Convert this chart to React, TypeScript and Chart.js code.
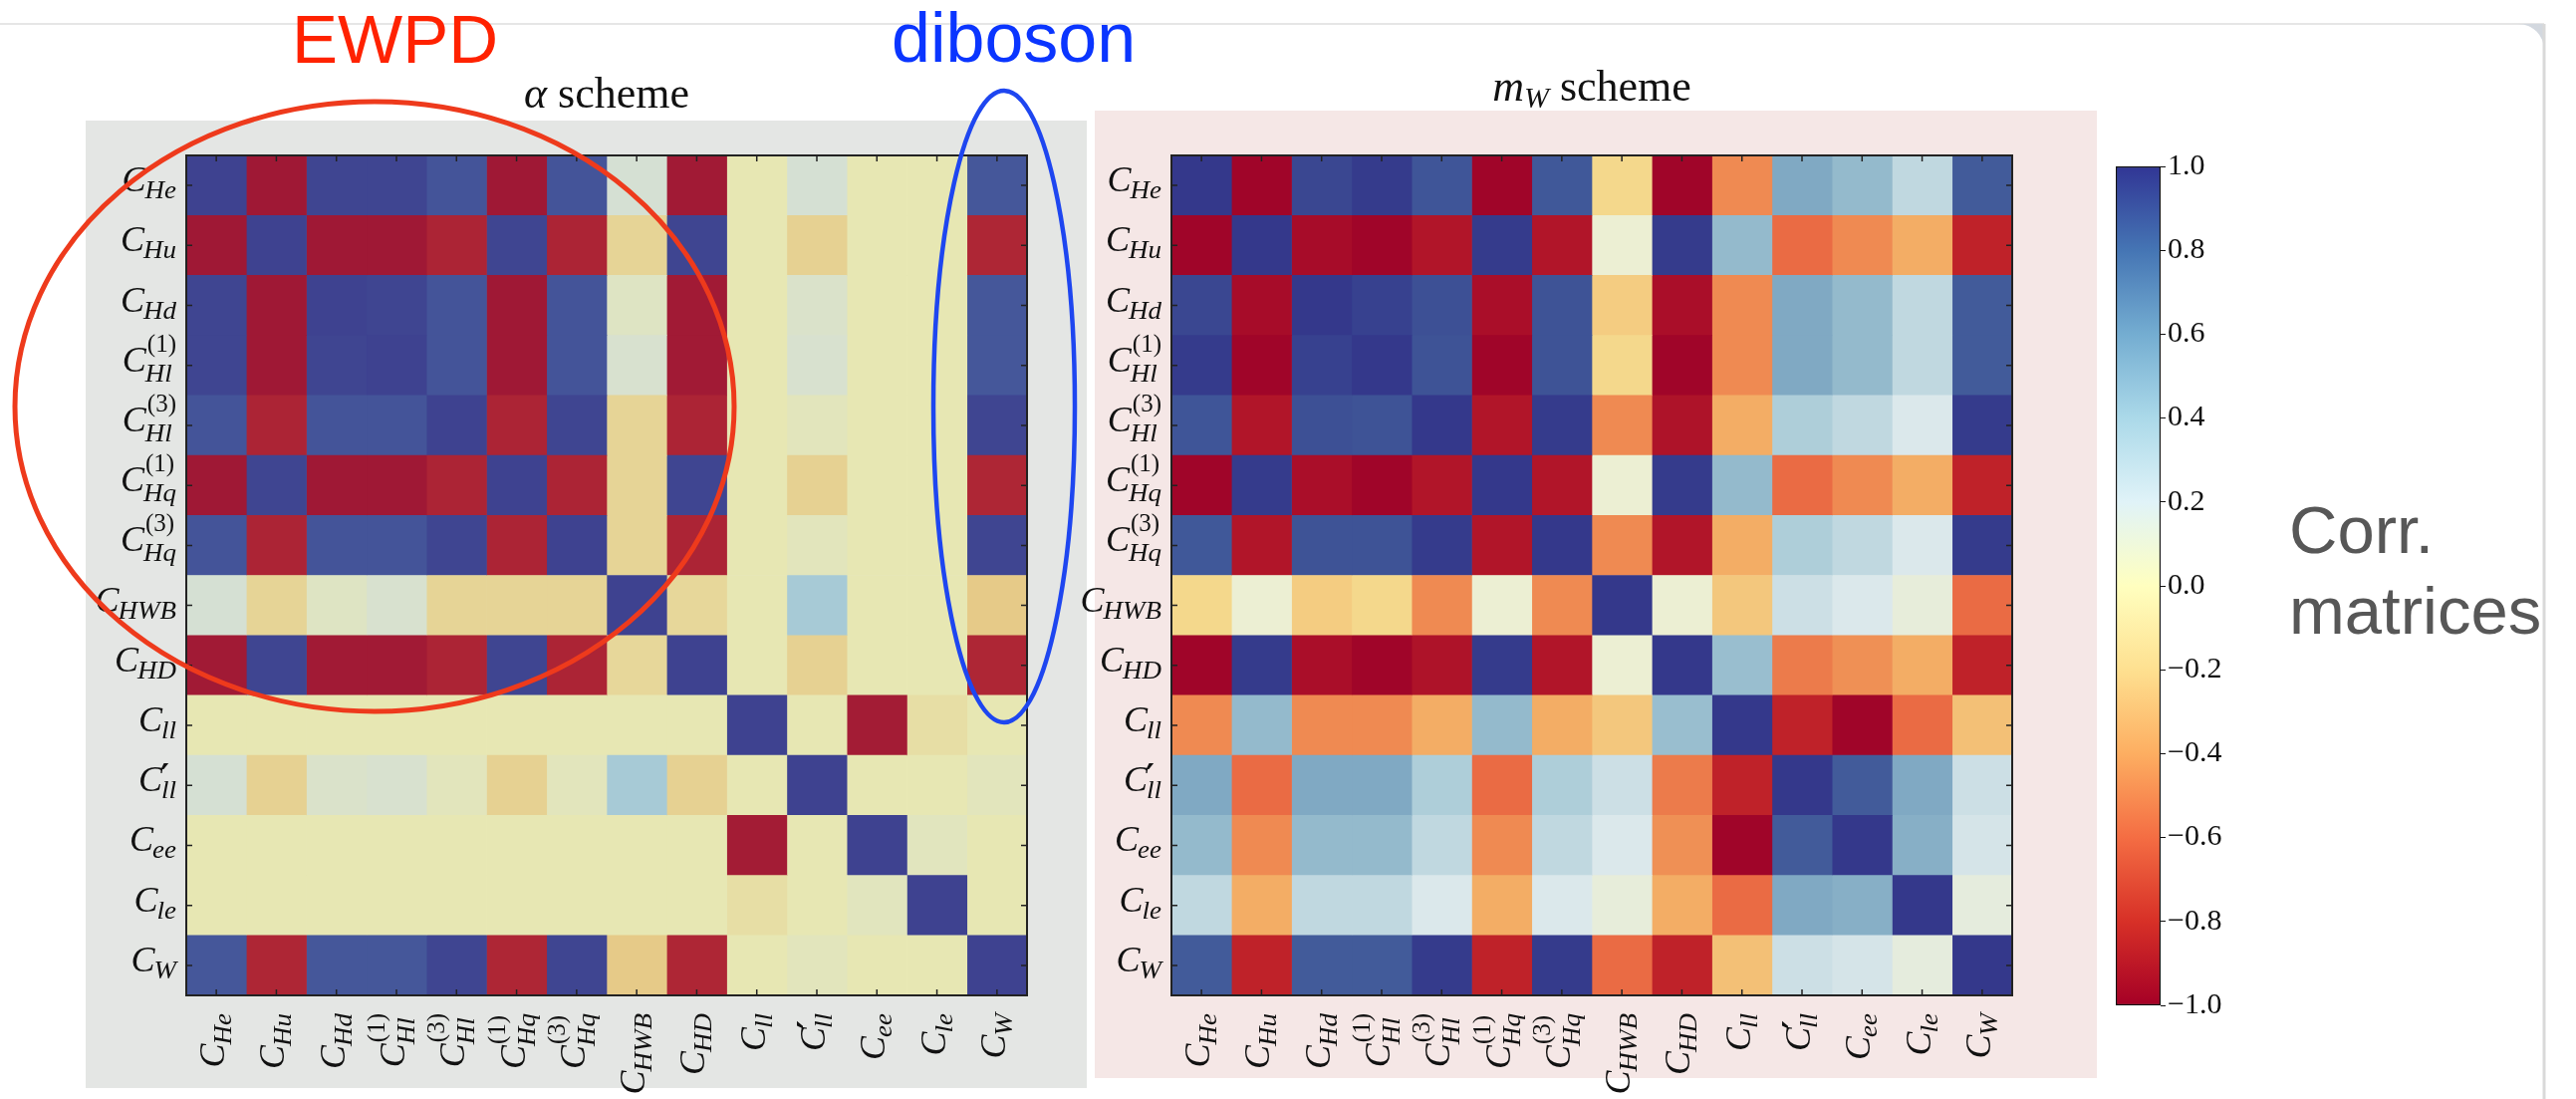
import React, { useEffect, useRef } from 'react';
import { Chart, registerables } from 'chart.js';

Chart.register(...registerables);

// ---------------- data ----------------
// Wilson coefficients (row / column order of both matrices)
const PARAM_SUBS = ['He', 'Hu', 'Hd', 'Hl', 'Hl', 'Hq', 'Hq', 'HWB', 'HD', 'll', 'll', 'ee', 'le', 'W'];
const PARAM_SUPS = ['', '', '', '(1)', '(3)', '(1)', '(3)', '', '', '', '′', '', '', ''];

// α scheme correlation matrix (rows = PARAM order)
const ALPHA_CORR: number[][] = [
  [1.0, -0.99, 0.99, 0.99, 0.93, -0.99, 0.93, 0.14, -0.98, 0.0, 0.14, 0.0, 0.0, 0.92],
  [-0.99, 1.0, -0.99, -0.99, -0.93, 0.99, -0.93, -0.15, 0.99, 0.0, -0.17, 0.0, 0.0, -0.92],
  [0.99, -0.99, 1.0, 0.99, 0.93, -0.99, 0.93, 0.07, -0.98, 0.0, 0.1, 0.0, 0.0, 0.92],
  [0.99, -0.99, 0.99, 1.0, 0.93, -0.99, 0.93, 0.12, -0.98, 0.0, 0.12, 0.0, 0.0, 0.92],
  [0.93, -0.93, 0.93, 0.93, 1.0, -0.93, 0.99, -0.15, -0.93, 0.0, 0.04, 0.0, 0.0, 0.99],
  [-0.99, 0.99, -0.99, -0.99, -0.93, 1.0, -0.93, -0.15, 0.99, 0.0, -0.17, 0.0, 0.0, -0.92],
  [0.93, -0.93, 0.93, 0.93, 0.99, -0.93, 1.0, -0.15, -0.93, 0.0, 0.04, 0.0, 0.0, 0.99],
  [0.14, -0.15, 0.07, 0.12, -0.15, -0.15, -0.15, 1.0, -0.13, 0.0, 0.38, 0.0, 0.0, -0.22],
  [-0.98, 0.99, -0.98, -0.98, -0.93, 0.99, -0.93, -0.13, 1.0, 0.0, -0.17, 0.0, 0.0, -0.92],
  [0.0, 0.0, 0.0, 0.0, 0.0, 0.0, 0.0, 0.0, 0.0, 1.0, 0.0, -0.97, -0.07, 0.0],
  [0.14, -0.17, 0.1, 0.12, 0.04, -0.17, 0.04, 0.38, -0.17, 0.0, 1.0, 0.0, 0.0, 0.04],
  [0.0, 0.0, 0.0, 0.0, 0.0, 0.0, 0.0, 0.0, 0.0, -0.97, 0.0, 1.0, 0.05, 0.0],
  [0.0, 0.0, 0.0, 0.0, 0.0, 0.0, 0.0, 0.0, 0.0, -0.07, 0.0, 0.05, 1.0, 0.0],
  [0.92, -0.92, 0.92, 0.92, 0.99, -0.92, 0.99, -0.22, -0.92, 0.0, 0.04, 0.0, 0.0, 1.0],
];

// m_W scheme correlation matrix
const MW_CORR: number[][] = [
  [1.0, -1.0, 0.95, 0.99, 0.9, -1.0, 0.89, -0.2, -1.0, -0.5, 0.58, 0.5, 0.32, 0.88],
  [-1.0, 1.0, -0.97, -1.0, -0.93, 0.99, -0.93, 0.06, 0.99, 0.5, -0.6, -0.5, -0.38, -0.87],
  [0.95, -0.97, 1.0, 0.97, 0.92, -0.96, 0.91, -0.25, -0.96, -0.5, 0.58, 0.5, 0.32, 0.88],
  [0.99, -1.0, 0.97, 1.0, 0.91, -1.0, 0.91, -0.2, -1.0, -0.5, 0.58, 0.5, 0.32, 0.88],
  [0.9, -0.93, 0.92, 0.91, 1.0, -0.93, 0.99, -0.5, -0.94, -0.38, 0.4, 0.32, 0.2, 0.99],
  [-1.0, 0.99, -0.96, -1.0, -0.93, 1.0, -0.93, 0.06, 0.99, 0.5, -0.6, -0.5, -0.38, -0.87],
  [0.89, -0.93, 0.91, 0.91, 0.99, -0.93, 1.0, -0.5, -0.93, -0.38, 0.4, 0.32, 0.2, 0.99],
  [-0.2, 0.06, -0.25, -0.2, -0.5, 0.06, -0.5, 1.0, 0.06, -0.27, 0.27, 0.2, 0.1, -0.6],
  [-1.0, 0.99, -0.96, -1.0, -0.94, 0.99, -0.93, 0.06, 1.0, 0.48, -0.55, -0.48, -0.38, -0.87],
  [-0.5, 0.5, -0.5, -0.5, -0.38, 0.5, -0.38, -0.27, 0.48, 1.0, -0.87, -1.0, -0.6, -0.3],
  [0.58, -0.6, 0.58, 0.58, 0.4, -0.6, 0.4, 0.27, -0.55, -0.87, 1.0, 0.88, 0.58, 0.27],
  [0.5, -0.5, 0.5, 0.5, 0.32, -0.5, 0.32, 0.2, -0.48, -1.0, 0.88, 1.0, 0.55, 0.23],
  [0.32, -0.38, 0.32, 0.32, 0.2, -0.38, 0.2, 0.1, -0.38, -0.6, 0.58, 0.55, 1.0, 0.12],
  [0.88, -0.87, 0.88, 0.88, 0.99, -0.87, 0.99, -0.6, -0.87, -0.3, 0.27, 0.23, 0.12, 1.0],
];

const COLORBAR_TICKS = [-1, -0.8, -0.6, -0.4, -0.2, 0, 0.2, 0.4, 0.6, 0.8, 1];

const ANNOT_EWPD = 'EWPD';
const ANNOT_DIBOSON = 'diboson';
const SIDE_TEXT = ['Corr.', 'matrices'];

// RdYlBu colormap stops (matplotlib)
const RDYLBU: number[][] = [
  [165, 0, 38], [215, 48, 39], [244, 109, 67], [253, 174, 97], [254, 224, 144],
  [255, 255, 191], [224, 243, 248], [171, 217, 233], [116, 173, 209], [69, 117, 180], [49, 54, 149],
];

const SERIF = '"Liberation Serif", "Times New Roman", serif';
const SANS = '"Liberation Sans", Arial, sans-serif';

// ---------------- helpers ----------------
function cmap(v: number): number[] {
  const t = ((Math.max(-1, Math.min(1, v)) + 1) / 2) * 10;
  const i = Math.min(9, Math.floor(t));
  const f = t - i;
  const a = RDYLBU[i];
  const b = RDYLBU[i + 1];
  return a.map((c, k) => c + (b[k] - c) * f);
}
function toneLeft(rgb: number[], v: number) {
  return rgb.map((c) => c * 0.82 + 22);
}
function toneRight(rgb: number[], v: number) {
  const lum = 0.3 * rgb[0] + 0.59 * rgb[1] + 0.11 * rgb[2];
  const s = v > -0.1 ? 0.32 * (lum / 255) : 0;
  return rgb.map((c) => (c + (lum - c) * s) * 0.94 + 5);
}
function colorOf(v: number, tone: (rgb: number[], v: number) => number[]) {
  const c = tone(cmap(v), v).map((x) => Math.round(x));
  return `rgb(${c[0]},${c[1]},${c[2]})`;
}

const MAIN_SIZE = 36;
const SUB_SIZE = 25;

function drawMathLabel(ctx: CanvasRenderingContext2D, i: number, endX: number, baseY: number) {
  const sub = PARAM_SUBS[i];
  const sup = PARAM_SUPS[i];
  const isPrime = sup === '′';
  const primeFont = `bold 34px "DejaVu Sans", "Noto Sans", sans-serif`;
  ctx.font = `italic ${MAIN_SIZE}px ${SERIF}`;
  const cW = ctx.measureText('C').width;
  let primeW = 0;
  let supW = 0;
  if (isPrime) {
    ctx.font = primeFont;
    primeW = ctx.measureText('′').width;
  } else if (sup) {
    ctx.font = `${SUB_SIZE}px ${SERIF}`;
    supW = ctx.measureText(sup).width;
  }
  ctx.font = `italic ${SUB_SIZE}px ${SERIF}`;
  const subW = ctx.measureText(sub).width * 1.08;
  const subX = cW - 1;
  const supX = cW + 1;
  const total = Math.max(subX + subW, isPrime ? cW + primeW : supX + supW);
  const x0 = endX - total;
  ctx.textAlign = 'left';
  ctx.textBaseline = 'alphabetic';
  ctx.font = `italic ${MAIN_SIZE}px ${SERIF}`;
  ctx.fillText('C', x0, baseY);
  if (isPrime) {
    ctx.font = primeFont;
    ctx.fillText('′', x0 + cW - 2, baseY - 3);
  } else if (sup) {
    ctx.font = `${SUB_SIZE}px ${SERIF}`;
    ctx.fillText(sup, x0 + supX, baseY - 20);
  }
  ctx.font = `italic ${SUB_SIZE}px ${SERIF}`;
  ctx.save();
  ctx.translate(x0 + subX, baseY + (sup && !isPrime ? 10 : 7));
  ctx.scale(1.08, 1);
  ctx.fillText(sub, 0, 0);
  ctx.restore();
}

type Seg = { t: string; italic?: boolean; size: number; dy?: number };
const ALPHA_TITLE: Seg[] = [
  { t: 'α', italic: true, size: 44 },
  { t: ' scheme', size: 44 },
];
const MW_TITLE: Seg[] = [
  { t: 'm', italic: true, size: 44 },
  { t: 'W', italic: true, size: 30, dy: 7 },
  { t: ' scheme', size: 44 },
];

function drawSegments(ctx: CanvasRenderingContext2D, segs: Seg[], cx: number, base: number) {
  const widths = segs.map((s) => {
    ctx.font = `${s.italic ? 'italic ' : ''}${s.size}px ${SERIF}`;
    return ctx.measureText(s.t).width;
  });
  const total = widths.reduce((a, b) => a + b, 0);
  let x = cx - total / 2;
  ctx.textAlign = 'left';
  ctx.textBaseline = 'alphabetic';
  ctx.fillStyle = '#111';
  segs.forEach((s, k) => {
    ctx.font = `${s.italic ? 'italic ' : ''}${s.size}px ${SERIF}`;
    ctx.fillText(s.t, x, base + (s.dy || 0));
    x += widths[k];
  });
}

function makeDecor(title: Seg[], titleBase: number) {
  return {
    id: 'matrixDecor',
    afterDatasetsDraw(chart: any) {
      const ctx: CanvasRenderingContext2D = chart.ctx;
      const xs = chart.scales.x;
      const ys = chart.scales.y;
      const { left, right, top, bottom } = chart.chartArea;
      ctx.save();
      ctx.strokeStyle = '#222';
      ctx.lineWidth = 2;
      ctx.strokeRect(left, top, right - left, bottom - top);
      ctx.lineWidth = 1.5;
      ctx.beginPath();
      PARAM_SUBS.forEach((_, i) => {
        const y = ys.getPixelForValue(i);
        ctx.moveTo(left, y);
        ctx.lineTo(left + 6, y);
        ctx.moveTo(right, y);
        ctx.lineTo(right - 6, y);
        const x = xs.getPixelForValue(i + 0.5);
        ctx.moveTo(x, top);
        ctx.lineTo(x, top + 6);
        ctx.moveTo(x, bottom);
        ctx.lineTo(x, bottom - 6);
      });
      ctx.stroke();
      ctx.fillStyle = '#111';
      PARAM_SUBS.forEach((_, i) => {
        drawMathLabel(ctx, i, left - 10, ys.getPixelForValue(i) + 6);
        const x = xs.getPixelForValue(i + 0.5);
        ctx.save();
        ctx.translate(x + 8, bottom + 18);
        ctx.rotate(-Math.PI / 2);
        drawMathLabel(ctx, i, 0, 0);
        ctx.restore();
      });
      drawSegments(ctx, title, (left + right) / 2, titleBase);
      ctx.restore();
    },
  };
}

function matrixConfig(
  corr: number[][],
  tone: (rgb: number[], v: number) => number[],
  title: Seg[],
  titleBase: number,
  padding: { left: number; top: number; right: number; bottom: number }
): any {
  const rows = PARAM_SUBS.map((s, i) => `C${PARAM_SUPS[i]}_${s}`);
  return {
    type: 'bar',
    data: {
      labels: rows,
      datasets: rows.map((name, j) => ({
        label: name,
        data: rows.map(() => 1),
        backgroundColor: corr.map((r) => colorOf(r[j], tone)),
        borderWidth: 0,
        barPercentage: 1,
        categoryPercentage: 1,
        stack: 'm',
      })),
    },
    options: {
      indexAxis: 'y',
      responsive: false,
      animation: false,
      devicePixelRatio: 1,
      events: [],
      layout: { padding },
      plugins: { legend: { display: false }, tooltip: { enabled: false }, title: { display: false } },
      scales: {
        x: { type: 'linear', stacked: true, min: 0, max: PARAM_SUBS.length, display: false },
        y: { stacked: true, display: false },
      },
    },
    plugins: [makeDecor(title, titleBase)],
  };
}

function fmtTick(v: number) {
  if (Math.abs(v) < 1e-9) return '0.0';
  return v < 0 ? '−' + (-v).toFixed(1) : v.toFixed(1);
}

function colorbarConfig(): any {
  return {
    type: 'bar',
    data: {
      labels: ['corr'],
      datasets: [
        {
          data: [[-1, 1]],
          backgroundColor: (c: any) => {
            const chart = c.chart;
            if (!chart.chartArea) return 'rgba(0,0,0,0)';
            const y = chart.scales.y;
            const g = chart.ctx.createLinearGradient(0, y.getPixelForValue(-1), 0, y.getPixelForValue(1));
            RDYLBU.forEach((col, i) => g.addColorStop(i / 10, `rgb(${col[0]},${col[1]},${col[2]})`));
            return g;
          },
          borderColor: '#111',
          borderWidth: 1.5,
          borderSkipped: false,
          barPercentage: 1,
          categoryPercentage: 1,
        },
      ],
    },
    options: {
      responsive: false,
      animation: false,
      devicePixelRatio: 1,
      events: [],
      layout: { padding: { left: 19, top: 167, right: 36, bottom: 94 } },
      plugins: { legend: { display: false }, tooltip: { enabled: false } },
      scales: {
        x: { display: false },
        y: {
          position: 'right',
          min: -1,
          max: 1,
          afterBuildTicks: (s: any) => {
            s.ticks = COLORBAR_TICKS.map((v) => ({ value: v }));
          },
          afterFit: (s: any) => {
            s.width = 100;
          },
          grid: { drawOnChartArea: false, drawTicks: true, tickLength: 5, color: '#111', lineWidth: 1 },
          border: { display: false },
          ticks: {
            color: '#111',
            padding: 2,
            font: { family: SERIF, size: 30 },
            callback: (v: any) => fmtTick(Number(v)),
          },
        },
      },
    },
  };
}

export default function App() {
  const leftRef = useRef<HTMLCanvasElement>(null);
  const rightRef = useRef<HTMLCanvasElement>(null);
  const cbRef = useRef<HTMLCanvasElement>(null);

  useEffect(() => {
    document.body.style.overflow = 'hidden';
    const charts = [
      new Chart(leftRef.current!, matrixConfig(ALPHA_CORR, toneLeft, ALPHA_TITLE, 108, { left: 187, top: 156, right: 64, bottom: 104 })),
      new Chart(rightRef.current!, matrixConfig(MW_CORR, toneRight, MW_TITLE, 101, { left: 136, top: 156, right: 85, bottom: 104 })),
      new Chart(cbRef.current!, colorbarConfig()),
    ];
    return () => charts.forEach((c) => c.destroy());
  }, []);

  const abs = (l: number, t: number, w: number, h: number): React.CSSProperties => ({
    position: 'absolute', left: l, top: t, width: w, height: h,
  });

  return (
    <div style={{ position: 'absolute', left: 0, top: 0, width: 2586, height: 1103, overflow: 'hidden', background: '#ffffff' }}>
      <svg width={2586} height={1103} style={{ position: 'absolute', left: 0, top: 0 }}>
        <line x1={0} y1={24} x2={2554} y2={24} stroke="#e6e6e6" strokeWidth={2} />
        <path d="M2528,24 L2554,24 L2554,50 A26,26 0 0 0 2528,24 Z" fill="#d3d8df" />
        <line x1={2554} y1={24} x2={2554} y2={1103} stroke="#d9d9d9" strokeWidth={3} />
        <rect x={86} y={121} width={1005} height={971} fill="#e4e6e4" />
        <rect x={1099} y={111} width={1006} height={971} fill="#f5e7e6" />
      </svg>
      <canvas ref={leftRef} width={1095} height={1103} style={abs(0, 0, 1095, 1103)} />
      <canvas ref={rightRef} width={1065} height={1103} style={abs(1040, 0, 1065, 1103)} />
      <canvas ref={cbRef} width={200} height={1103} style={abs(2105, 0, 200, 1103)} />
      <svg width={2586} height={1103} style={{ position: 'absolute', left: 0, top: 0, pointerEvents: 'none' }}>
        <ellipse cx={376} cy={408} rx={361} ry={306} fill="none" stroke="#ee3a1c" strokeWidth={5} />
        <ellipse cx={1008} cy={408} rx={71} ry={317} fill="none" stroke="#1e46f0" strokeWidth={4.5} />
        <text x={293} y={63} fontFamily={SANS} fontSize={69} fill="#ff2200">{ANNOT_EWPD}</text>
        <text x={895} y={62} fontFamily={SANS} fontSize={70} fill="#0a35ff">{ANNOT_DIBOSON}</text>
        <text x={2298} y={555} fontFamily={SANS} fontSize={67} fill="#575757">{SIDE_TEXT[0]}</text>
        <text x={2298} y={636} fontFamily={SANS} fontSize={67} fill="#575757">{SIDE_TEXT[1]}</text>
      </svg>
    </div>
  );
}
